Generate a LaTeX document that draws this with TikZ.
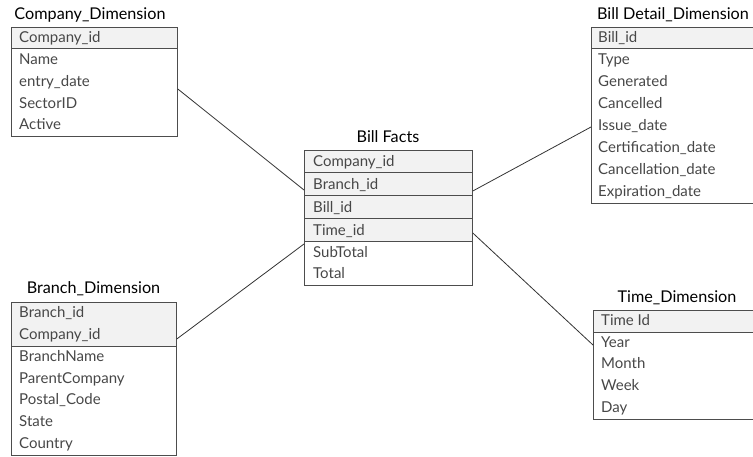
\documentclass[tikz,border=0pt]{standalone}
\usepackage{fontspec}
\setmainfont{Lato}
\newfontfamily\fieldfont{Lato}
\definecolor{boxgray}{HTML}{4D4D4D}
\definecolor{hdrgray}{HTML}{F2F2F2}
\definecolor{txtgray}{HTML}{474747}
\definecolor{linegray}{HTML}{333333}
\begin{document}
\begin{tikzpicture}[x=1pt,y=-1pt,
  tbox/.style={draw=boxgray, line width=0.8pt, inner sep=0pt, anchor=north west},
  hdr/.style={tbox, fill=hdrgray},
  fld/.style={anchor=west, inner sep=0pt, text height=11pt, text depth=0pt,
    font=\fieldfont\fontsize{15}{17}\selectfont, text=txtgray},
  ttl/.style={inner sep=0pt, text height=11.5pt, text depth=0pt,
    font=\fontsize{16.2}{18}\selectfont, text=black},
  link/.style={draw=linegray, line width=0.8pt}]
\useasboundingbox (0,0) rectangle (753,457);
\clip (0,0) rectangle (753,457);

% ---------- Company_Dimension ----------
\node[hdr, minimum width=166pt, minimum height=21pt] (chdr) at (11,27) {};
\node[tbox, minimum width=166pt, minimum height=109pt] (cbox) at (11,27) {};
\node[ttl] (ctitle) at (90,14) {Company\_Dimension};
\node[fld] (c1) at (19,37) {Company\_id};
\node[fld] (c2) at (19,59) {Name};
\node[fld] (c3) at (19,81) {entry\_date};
\node[fld] (c4) at (19,103) {SectorID};
\node[fld] (c5) at (19,124) {Active};

% ---------- Bill Facts ----------
\node[hdr, minimum width=168pt, minimum height=22pt] (fh1) at (304,150) {};
\node[hdr, minimum width=168pt, minimum height=23pt] (fh2) at (304,172) {};
\node[hdr, minimum width=168pt, minimum height=23pt] (fh3) at (304,195) {};
\node[hdr, minimum width=168pt, minimum height=23pt] (fh4) at (304,218) {};
\node[tbox, minimum width=168pt, minimum height=135pt] (fbox) at (304,150) {};
\node[ttl] (ftitle) at (388,137) {Bill Facts};
\node[fld] (f1) at (313,161) {Company\_id};
\node[fld] (f2) at (313,184) {Branch\_id};
\node[fld] (f3) at (313,207) {Bill\_id};
\node[fld] (f4) at (313,230) {Time\_id};
\node[fld] (f5) at (313,252) {SubTotal};
\node[fld] (f6) at (313,273) {Total};

% ---------- Bill Detail_Dimension ----------
\node[hdr, minimum width=165pt, minimum height=21pt] (dhdr) at (591,27) {};
\node[tbox, minimum width=165pt, minimum height=176pt] (dbox) at (591,27) {};
\node[ttl] (dtitle) at (673,14) {Bill Detail\_Dimension};
\node[fld] (d1) at (598,37) {Bill\_id};
\node[fld] (d2) at (598,59) {Type};
\node[fld] (d3) at (598,81) {Generated};
\node[fld] (d4) at (598,103) {Cancelled};
\node[fld] (d5) at (598,125) {Issue\_date};
\node[fld] (d6) at (598,147) {Certification\_date};
\node[fld] (d7) at (598,169) {Cancellation\_date};
\node[fld] (d8) at (598,191) {Expiration\_date};

% ---------- Branch_Dimension ----------
\node[hdr, minimum width=165pt, minimum height=44pt] (bhdr) at (11,302) {};
\node[tbox, minimum width=165pt, minimum height=153pt] (bbox) at (11,302) {};
\node[ttl] (btitle) at (93.5,288) {Branch\_Dimension};
\node[fld] (b1) at (19,312) {Branch\_id};
\node[fld] (b2) at (19,334) {Company\_id};
\node[fld] (b3) at (19,356) {BranchName};
\node[fld] (b4) at (19,378) {ParentCompany};
\node[fld] (b5) at (19,399) {Postal\_Code};
\node[fld] (b6) at (19,421) {State};
\node[fld] (b7) at (19,443) {Country};

% ---------- Time_Dimension ----------
\node[hdr, minimum width=166pt, minimum height=22pt] (thdr) at (593,310) {};
\node[tbox, minimum width=166pt, minimum height=109pt] (tbox) at (593,310) {};
\node[ttl] (ttitle) at (677,297) {Time\_Dimension};
\node[fld] (t1) at (601,320) {Time Id};
\node[fld] (t2) at (601,342) {Year};
\node[fld] (t3) at (601,363) {Month};
\node[fld] (t4) at (601,385) {Week};
\node[fld] (t5) at (601,407) {Day};

% ---------- connectors ----------
\draw[link] ([yshift=-62pt]cbox.north east) -- ([yshift=-40pt]fbox.north west);
\draw[link] ([yshift=-37pt]bbox.north east) -- ([yshift=-94pt]fbox.north west);
\draw[link] ([yshift=-41pt]fbox.north east) -- ([yshift=-100pt]dbox.north west);
\draw[link] ([yshift=-83pt]fbox.north east) -- ([yshift=-35pt]tbox.north west);
\end{tikzpicture}
\end{document}
